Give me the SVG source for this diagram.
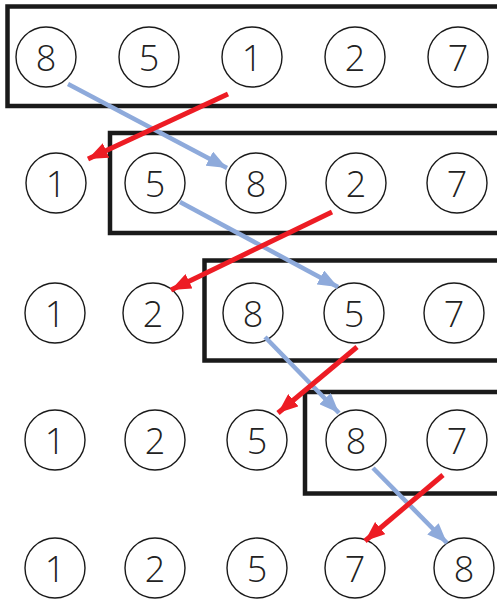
<svg xmlns="http://www.w3.org/2000/svg" width="497" height="599" viewBox="0 0 497 599">
<defs>
<style>
.n circle{fill:#fff;stroke:#1a1a1a;stroke-width:1.4}
.n text{font-family:"Open Sans","Liberation Sans",sans-serif;font-weight:300;font-size:36px;fill:#222;text-anchor:middle;dominant-baseline:central}
.box{fill:none;stroke:#1a1a1a;stroke-width:4.5}
.blue{stroke:#8eaadb;stroke-width:4.5;fill:none}
.red{stroke:#ed1c24;stroke-width:5;fill:none}
</style>
<marker id="ab" markerUnits="userSpaceOnUse" markerWidth="20" markerHeight="16" viewBox="0 0 20 16" refX="20" refY="8" orient="auto"><path d="M0,0 L20,8 L0,16 Z" fill="#8eaadb"/></marker>
<marker id="ar" markerUnits="userSpaceOnUse" markerWidth="20" markerHeight="16" viewBox="0 0 20 16" refX="20" refY="8" orient="auto"><path d="M0,0 L20,8 L0,16 Z" fill="#ed1c24"/></marker>
</defs>
<g id="boxes">
<rect class="box" x="7.5" y="6.5" width="492" height="99.5"/>
<rect class="box" x="110" y="133" width="392" height="100"/>
<rect class="box" x="204.5" y="260.5" width="297" height="100"/>
<rect class="box" x="305" y="392" width="196" height="101.5"/>
</g>
<g id="row1">
<g id="r1n1" class="n"><circle cx="46" cy="57" r="30"/><text x="46" y="57">8</text></g>
<g id="r1n2" class="n"><circle cx="149" cy="57" r="30"/><text x="149" y="57">5</text></g>
<g id="r1n3" class="n"><circle cx="252" cy="57" r="30"/><text x="252" y="57">1</text></g>
<g id="r1n4" class="n"><circle cx="355" cy="57" r="30"/><text x="355" y="57">2</text></g>
<g id="r1n5" class="n"><circle cx="458" cy="57" r="30"/><text x="458" y="57">7</text></g>
</g>
<g id="row2">
<g id="r2n1" class="n"><circle cx="56" cy="183" r="30"/><text x="56" y="183">1</text></g>
<g id="r2n2" class="n"><circle cx="155" cy="183" r="30"/><text x="155" y="183">5</text></g>
<g id="r2n3" class="n"><circle cx="256" cy="183" r="30"/><text x="256" y="183">8</text></g>
<g id="r2n4" class="n"><circle cx="356" cy="183" r="30"/><text x="356" y="183">2</text></g>
<g id="r2n5" class="n"><circle cx="457" cy="183" r="30"/><text x="457" y="183">7</text></g>
</g>
<g id="row3">
<g id="r3n1" class="n"><circle cx="55" cy="313" r="30"/><text x="55" y="313">1</text></g>
<g id="r3n2" class="n"><circle cx="153" cy="313" r="30"/><text x="153" y="313">2</text></g>
<g id="r3n3" class="n"><circle cx="253" cy="313" r="30"/><text x="253" y="313">8</text></g>
<g id="r3n4" class="n"><circle cx="354" cy="313" r="30"/><text x="354" y="313">5</text></g>
<g id="r3n5" class="n"><circle cx="454" cy="313" r="30"/><text x="454" y="313">7</text></g>
</g>
<g id="row4">
<g id="r4n1" class="n"><circle cx="55" cy="440" r="30"/><text x="55" y="440">1</text></g>
<g id="r4n2" class="n"><circle cx="155" cy="440" r="30"/><text x="155" y="440">2</text></g>
<g id="r4n3" class="n"><circle cx="257" cy="440" r="30"/><text x="257" y="440">5</text></g>
<g id="r4n4" class="n"><circle cx="356" cy="440" r="30"/><text x="356" y="440">8</text></g>
<g id="r4n5" class="n"><circle cx="457" cy="440" r="30"/><text x="457" y="440">7</text></g>
</g>
<g id="row5">
<g id="r5n1" class="n"><circle cx="55" cy="568" r="30"/><text x="55" y="568">1</text></g>
<g id="r5n2" class="n"><circle cx="155" cy="568" r="30"/><text x="155" y="568">2</text></g>
<g id="r5n3" class="n"><circle cx="257" cy="568" r="30"/><text x="257" y="568">5</text></g>
<g id="r5n4" class="n"><circle cx="355" cy="568" r="30"/><text x="355" y="568">7</text></g>
<g id="r5n5" class="n"><circle cx="464" cy="568" r="30"/><text x="464" y="568">8</text></g>
</g>
<g id="connectors">
<line class="blue" x1="68" y1="84" x2="227" y2="168" marker-end="url(#ab)"/>
<line class="red" x1="228" y1="94" x2="88" y2="159" marker-end="url(#ar)"/>
<line class="blue" x1="180" y1="202" x2="338" y2="287" marker-end="url(#ab)"/>
<line class="red" x1="332" y1="212" x2="171" y2="290" marker-end="url(#ar)"/>
<line class="blue" x1="265" y1="337" x2="339" y2="413" marker-end="url(#ab)"/>
<line class="red" x1="357" y1="347" x2="278" y2="413" marker-end="url(#ar)"/>
<line class="blue" x1="373" y1="468" x2="447" y2="543" marker-end="url(#ab)"/>
<line class="red" x1="443" y1="475" x2="365" y2="541" marker-end="url(#ar)"/>
</g>
</svg>
